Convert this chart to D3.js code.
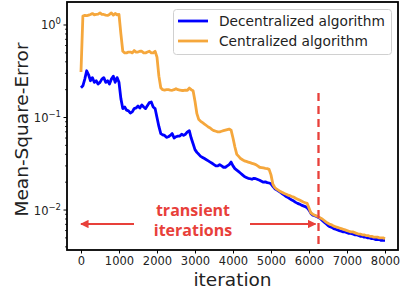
<!DOCTYPE html>
<html><head><meta charset="utf-8">
<script src="https://cdn.jsdelivr.net/npm/d3@7"></script>
<style>body{margin:0;background:#fff}svg{display:block}</style>
</head><body>
<svg id="c" width="401" height="290"></svg>
<script>
const seriesNames = ["Decentralized algorithm", "Centralized algorithm"];
const colors = ["#0000ff", "#f5a73c"];
const iters = [0,50,100,150,200,250,300,350,400,450,500,550,600,650,700,750,800,850,900,950,1000,1050,1100,1150,1200,1250,1300,1350,1400,1450,1500,1550,1600,1650,1700,1750,1800,1850,1900,1950,2000,2050,2100,2150,2200,2250,2300,2350,2400,2450,2500,2550,2600,2650,2700,2750,2800,2850,2900,2950,3000,3050,3100,3150,3200,3250,3300,3350,3400,3450,3500,3550,3600,3650,3700,3750,3800,3850,3900,3950,4000,4050,4100,4150,4200,4250,4300,4350,4400,4450,4500,4550,4600,4650,4700,4750,4800,4850,4900,4950,5000,5050,5100,5150,5200,5250,5300,5350,5400,5450,5500,5550,5600,5650,5700,5750,5800,5850,5900,5950,6000,6050,6100,6150,6200,6250,6300,6350,6400,6450,6500,6550,6600,6650,6700,6750,6800,6850,6900,6950,7000,7050,7100,7150,7200,7250,7300,7350,7400,7450,7500,7550,7600,7650,7700,7750,7800,7850,7900,7950,8000];
const decentralized = [0.21,0.22,0.26,0.32,0.29,0.25,0.27,0.24,0.25,0.23,0.24,0.26,0.27,0.24,0.25,0.23,0.26,0.28,0.24,0.27,0.24,0.16,0.125,0.13,0.12,0.118,0.112,0.115,0.125,0.127,0.133,0.127,0.137,0.13,0.125,0.135,0.145,0.147,0.13,0.125,0.10,0.08,0.067,0.065,0.064,0.061,0.062,0.064,0.067,0.060,0.062,0.063,0.063,0.066,0.064,0.066,0.070,0.072,0.060,0.052,0.045,0.042,0.040,0.038,0.037,0.036,0.035,0.034,0.033,0.032,0.031,0.030,0.030,0.031,0.030,0.029,0.029,0.030,0.031,0.033,0.030,0.028,0.027,0.026,0.025,0.024,0.023,0.0225,0.022,0.0218,0.0215,0.0220,0.0218,0.0214,0.021,0.0205,0.020,0.0202,0.0198,0.0196,0.0192,0.018,0.0170,0.0165,0.0160,0.0155,0.0150,0.0145,0.0140,0.0136,0.0132,0.0128,0.0125,0.0121,0.0118,0.0116,0.0113,0.0111,0.0109,0.0106,0.0100,0.0092,0.0088,0.0087,0.0085,0.0083,0.0081,0.0077,0.0074,0.0071,0.0068,0.0066,0.0065,0.0063,0.0062,0.0061,0.0060,0.0059,0.0058,0.0058,0.0057,0.0056,0.0056,0.0055,0.0054,0.0054,0.0053,0.0052,0.0052,0.0051,0.0051,0.0050,0.0050,0.0049,0.0049,0.0048,0.0048,0.0048,0.0047,0.0047,0.0047];
const centralized = [0.31,1.25,1.27,1.26,1.28,1.30,1.33,1.29,1.30,1.31,1.35,1.30,1.30,1.28,1.27,1.30,1.35,1.28,1.33,1.29,1.30,0.80,0.52,0.50,0.50,0.51,0.51,0.50,0.53,0.51,0.51,0.52,0.52,0.50,0.50,0.51,0.52,0.50,0.50,0.52,0.45,0.28,0.21,0.20,0.198,0.200,0.200,0.198,0.197,0.200,0.205,0.200,0.198,0.196,0.196,0.198,0.197,0.208,0.200,0.195,0.15,0.11,0.095,0.091,0.088,0.085,0.082,0.079,0.077,0.074,0.072,0.071,0.070,0.070,0.071,0.072,0.073,0.074,0.075,0.073,0.060,0.048,0.040,0.038,0.036,0.035,0.034,0.0335,0.033,0.0325,0.032,0.0315,0.031,0.030,0.029,0.0288,0.0285,0.0282,0.028,0.0275,0.024,0.019,0.0175,0.0168,0.0163,0.0158,0.0155,0.0151,0.0148,0.0145,0.0143,0.0140,0.0138,0.0134,0.0131,0.0128,0.0125,0.0122,0.0120,0.0118,0.0105,0.0093,0.0090,0.0088,0.0086,0.0084,0.0082,0.0080,0.0077,0.0074,0.0072,0.0070,0.0069,0.0067,0.0066,0.0065,0.0064,0.0063,0.0062,0.0061,0.0060,0.0059,0.0058,0.0058,0.0057,0.0056,0.0055,0.0055,0.0054,0.0054,0.0053,0.0053,0.0052,0.0052,0.0051,0.0051,0.0051,0.0050,0.0050,0.0050,0.0049];
const xTicks = [0,1000,2000,3000,4000,5000,6000,7000,8000];
const yTicks = [1e-2, 1e-1, 1];
const yTickExp = ["\u22122", "\u22121", "0"];
const transientEnd = 6250;
const annotationLines = ["transient", "iterations"];
const xLabel = "iteration";
const yLabel = "Mean-Square-Error";

const svg = d3.select("#c");
const L = 67, R = 398, T = 2, B = 250;
const x = d3.scaleLinear().domain([-368, 8342]).range([L, R]);
const y = d3.scaleLog().domain([Math.pow(10,-2.432), Math.pow(10,0.2486)]).range([B, T]);
const font = "'DejaVu Sans', sans-serif";

svg.append("defs").append("clipPath").attr("id","clip").append("rect")
  .attr("x",L).attr("y",T).attr("width",R-L).attr("height",B-T);

// x axis
const xa = svg.append("g").attr("transform",`translate(0,${B})`)
  .call(d3.axisBottom(x).tickValues(xTicks).tickSize(3.5).tickPadding(3).tickFormat(d3.format("d")));
xa.select(".domain").remove();
xa.selectAll("text").attr("font-family",font).attr("font-size",11.5).attr("fill","#222");
xa.selectAll("line").attr("stroke","#000").attr("stroke-width",1);

// y axis (log) with minor ticks
const minor = [];
for (let e=-3;e<=0;e++) for (let m=2;m<=9;m++){const v=m*Math.pow(10,e); if(v>y.domain()[0]&&v<y.domain()[1]) minor.push(v);}
svg.append("g").selectAll("line").data(minor).join("line")
  .attr("x1",L-2).attr("x2",L).attr("y1",d=>y(d)).attr("y2",d=>y(d))
  .attr("stroke","#000").attr("stroke-width",0.8);
svg.append("g").selectAll("line").data(yTicks).join("line")
  .attr("x1",L-3.5).attr("x2",L).attr("y1",d=>y(d)).attr("y2",d=>y(d))
  .attr("stroke","#000").attr("stroke-width",1);
const yt = svg.append("g").selectAll("text").data(yTicks).join("text")
  .attr("x",L-6).attr("y",d=>y(d)+4.5).attr("text-anchor","end")
  .attr("font-family",font).attr("font-size",11.5).attr("fill","#222");
yt.append("tspan").text("10");
yt.append("tspan").attr("dy",-5).attr("font-size",8.5).text((d,i)=>yTickExp[i]);

// series lines
const line = d3.line().x(d=>x(d[0])).y(d=>y(d[1]));
const g = svg.append("g").attr("clip-path","url(#clip)");
[decentralized, centralized].forEach((s,i)=>{
  g.append("path").datum(iters.map((t,k)=>[t,s[k]]))
    .attr("d",line).attr("fill","none").attr("stroke",colors[i])
    .attr("stroke-width",2.8).attr("stroke-linejoin","round");
});

// transient marker
const red = "#e8403a";
svg.append("line").attr("x1",x(transientEnd)).attr("x2",x(transientEnd))
  .attr("y1",93).attr("y2",B).attr("stroke",red).attr("stroke-width",2.3)
  .attr("stroke-dasharray","8,5");

svg.append("defs").append("marker").attr("id","ah").attr("viewBox","0 0 10 10")
  .attr("refX",9).attr("refY",5).attr("markerWidth",4.2).attr("markerHeight",4.2)
  .attr("orient","auto-start-reverse").append("path").attr("d","M0,0L10,5L0,10z").attr("fill",red);
svg.append("line").attr("x1",134).attr("x2",x(0)).attr("y1",224).attr("y2",224)
  .attr("stroke",red).attr("stroke-width",2).attr("marker-end","url(#ah)");
svg.append("line").attr("x1",250).attr("x2",x(transientEnd)-3).attr("y1",224).attr("y2",224)
  .attr("stroke",red).attr("stroke-width",2).attr("marker-end","url(#ah)");

annotationLines.forEach((t,i)=>{
  svg.append("text").attr("x",193).attr("y",216+i*20).attr("text-anchor","middle")
    .attr("font-family","'Open Sans', sans-serif").attr("font-weight","bold").attr("font-size",16)
    .attr("fill",red).text(t);
});

// frame
svg.append("rect").attr("x",L).attr("y",T).attr("width",R-L).attr("height",B-T)
  .attr("fill","none").attr("stroke","#000").attr("stroke-width",1.8);

// legend
const lg = svg.append("g");
lg.append("rect").attr("x",173.5).attr("y",9.5).attr("width",218).attr("height",45).attr("rx",3)
  .attr("fill","#fff").attr("fill-opacity",0.85).attr("stroke","#d0d0d0").attr("stroke-width",1);
const lgTexts = [];
seriesNames.forEach((n,i)=>{
  const yy = 21 + i*20;
  lg.append("line").attr("x1",178).attr("x2",208).attr("y1",yy).attr("y2",yy)
    .attr("stroke",colors[i]).attr("stroke-width",2.8);
  lgTexts.push(lg.append("text").attr("x",219).attr("y",yy+5).attr("font-family",font).attr("font-size",14)
    .attr("fill","#222").text(n));
});
// fit legend font so first entry spans the reference width (~166px)
const w0 = lgTexts[0].node().getComputedTextLength();
if (w0 > 0) {
  const fs = Math.max(12, Math.min(17, 14 * 166 / w0));
  lgTexts.forEach(t => t.attr("font-size", fs));
}

// axis titles
svg.append("text").attr("x",(L+R)/2).attr("y",286).attr("text-anchor","middle")
  .attr("font-family",font).attr("font-size",18.5).attr("fill","#222").text(xLabel);
svg.append("text").attr("transform",`translate(28,129.5) rotate(-90)`).attr("text-anchor","middle")
  .attr("font-family",font).attr("font-size",18.5).attr("fill","#222").text(yLabel);
</script>
</body></html>
